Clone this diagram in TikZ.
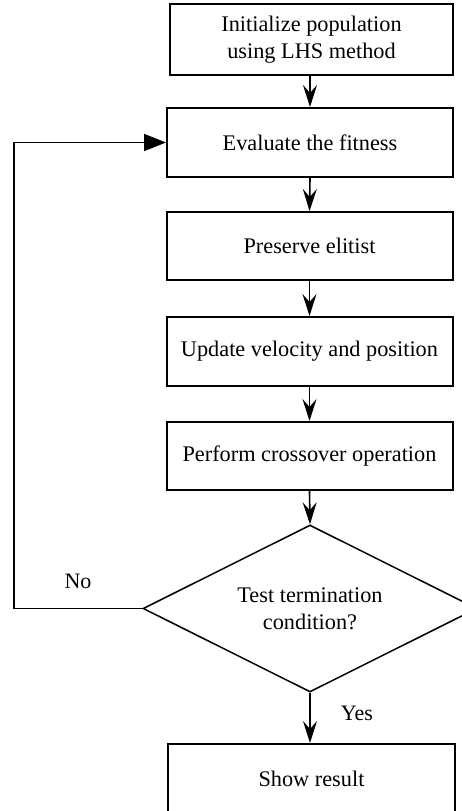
\documentclass[tikz,border=0pt]{standalone}
\usepackage{fontspec}
\setmainfont{Liberation Serif}
\usetikzlibrary{shapes.geometric,arrows.meta}
\tikzset{
  procbox/.style={draw, line width=2pt, minimum width=286pt, minimum height=69pt, inner sep=0pt, align=center, font=\fontsize{22.3}{27}\selectfont},
  decbox/.style={draw, diamond, aspect=2, line width=1.5pt, minimum width=334pt, minimum height=167pt, inner sep=0pt, align=center, font=\fontsize{22.3}{27}\selectfont},
  flow/.style={line width=1.6pt, -{Stealth[length=22pt,width=14pt,inset=8pt]}},
  loopflow/.style={line width=1.8pt, -{Triangle[length=22pt,width=17pt]}},
  lbl/.style={font=\fontsize{22}{25}\selectfont, inner sep=0pt}
}
\begin{document}
\begin{tikzpicture}[x=1pt,y=-1pt]
\clip (0,0) rectangle (462,811);
\fill[white] (0,0) rectangle (462,811);
\node[procbox, minimum width=283pt, minimum height=71pt] (b1) at (311.5,39.5) {Initialize population\\ using LHS method};
\node[procbox] (b2) at (310,142.5) {Evaluate the fitness};
\node[procbox, minimum height=68pt] (b3) at (309.5,246) {Preserve elitist};
\node[procbox] (b4) at (309.5,351.5) {Update velocity and position};
\node[procbox, minimum height=68pt] (b5) at (309.5,456) {Perform crossover operation};
\node[decbox] (d) at (310,608.5) {Test termination\\condition?};
\node[procbox, minimum height=70pt, minimum width=287pt] (b6) at (311.5,779) {Show result};
\coordinate (lp) at (14,608.5);
\draw[flow] (b1.south -| 310,0) -- (b2.north);
\draw[flow] (b2.south) -- (b3.north);
\draw[flow] (b3.south) -- (b4.north);
\draw[flow] (b4.south) -- (b5.north);
\draw[flow] (b5.south) -- (d.north);
\draw[flow] (d.south) -- (b6.north -| d.south);
\draw[loopflow] (d.west) -- (lp) |- (b2.west);
\node[lbl] (no) at (78,581) {No};
\node[lbl] (yes) at (357,713) {Yes};
\end{tikzpicture}
\end{document}
